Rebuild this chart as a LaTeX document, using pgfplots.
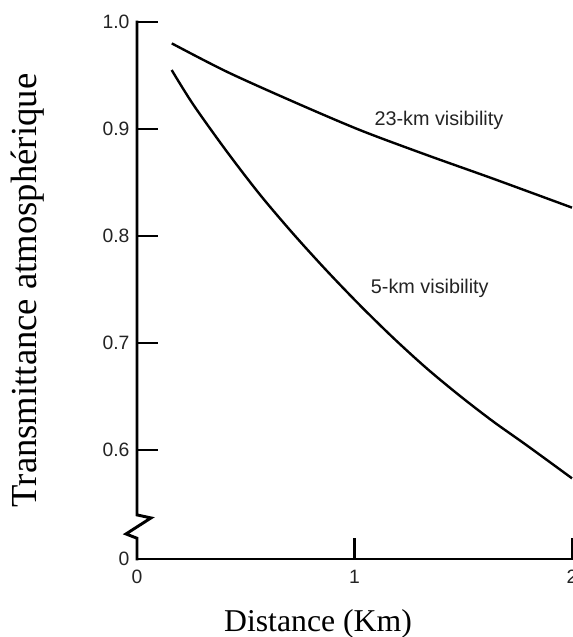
\documentclass[border=0pt]{standalone}
\usepackage{fontspec}
\setmainfont{Liberation Serif}
\newfontfamily\sansf{Liberation Sans}
\usepackage{pgfplots}
\pgfplotsset{compat=1.18}
\definecolor{ink}{RGB}{35,35,35}
\pgfplotstableread{
x y
0.160 0.9800
0.412 0.9536
0.719 0.9255
1.025 0.8990
1.332 0.8757
1.638 0.8535
2.000 0.8265
}\vistwentythree
\pgfplotstableread{
x y
0.1594 0.9551
0.2590 0.9227
0.4123 0.8791
0.5655 0.8386
0.7188 0.8019
0.8720 0.7676
1.0253 0.7352
1.1785 0.7047
1.3318 0.6763
1.4851 0.6505
1.6383 0.6265
1.7916 0.6044
2.0000 0.5735
}\visfive
\begin{document}
\begin{tikzpicture}
\begin{axis}[
  scale only axis, width=326.25pt, height=402.75pt,
  xmin=0, xmax=2, ymin=0.4981, ymax=1.0,
  axis x line*=bottom, axis y line*=left,
  y axis line style={draw=none},
  x axis line style={line width=2.2pt, line cap=rect},
  clip=false,
  xtick={0,1,2}, xticklabels={0,1,2},
  ytick={0.4981,0.6,0.7,0.8,0.9,1.0},
  yticklabels={0,0.6,0.7,0.8,0.9,1.0},
  tick align=inside, major tick length=16pt,
  tick style={line width=1.6pt, black},
  ticklabel style={font=\sansf\fontsize{14.5}{17}\selectfont, text=ink},
  /pgf/number format/assume math mode=true,
  yticklabel style={inner sep=0pt, anchor=east, xshift=-5.5pt},
  xticklabel style={inner sep=0pt, anchor=north, yshift=-8pt},
  xlabel={Distance (Km)},
  xlabel style={at={([yshift=-54.5pt]rel axis cs:0.4161,0)}, anchor=base, inner sep=0pt, font=\fontsize{23.8}{28}\selectfont},
  ylabel={Transmittance atmosphérique},
  ylabel style={at={([xshift=-75pt]rel axis cs:0,0.5)}, anchor=base, inner sep=0pt, font=\fontsize{27.5}{32}\selectfont},
]
\addplot[line width=1.8pt, black, smooth, tension=0.5] table[x=x,y=y] {\vistwentythree};
\addplot[line width=1.8pt, black, smooth, tension=0.5] table[x=x,y=y] {\visfive};
\draw[line width=2.2pt, black, line join=miter, line cap=rect]
  (axis cs:0,1.0) -- (axis cs:0,0.5393) -- (axis cs:0.0644,0.5365)
  -- (axis cs:-0.0506,0.5215) -- (axis cs:0,0.5175) -- (axis cs:0,0.4981);
\node[anchor=base west, inner sep=0pt, text=ink, font=\sansf\fontsize{14.85}{17}\selectfont] at (axis cs:1.091,0.9028) {23-km visibility};
\node[anchor=base west, inner sep=0pt, text=ink, font=\sansf\fontsize{14.85}{17}\selectfont] at (axis cs:1.0745,0.7464) {5-km visibility};
\coordinate (bl) at (rel axis cs:0,0);
\coordinate (tr) at (rel axis cs:1,1);
\end{axis}
\pgfresetboundingbox
\path[use as bounding box] ([xshift=-102.75pt,yshift=-58.5pt]bl) rectangle ([yshift=16.5pt]tr);
\end{tikzpicture}
\end{document}
